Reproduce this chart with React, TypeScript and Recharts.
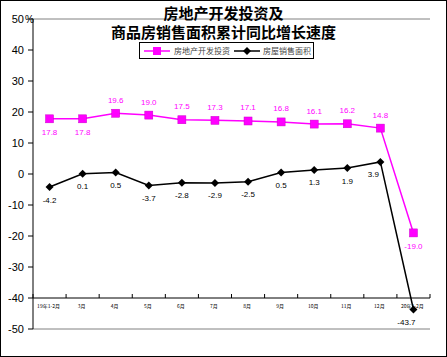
import { LineChart, Line, XAxis, YAxis, ReferenceLine, LabelList, Legend } from "recharts";

const months = ["19年1-2月", "3月", "4月", "5月", "6月", "7月", "8月", "9月", "10月", "11月", "12月", "20年1-2月"];
const investment = [17.8, 17.8, 19.6, 19.0, 17.5, 17.3, 17.1, 16.8, 16.1, 16.2, 14.8, -19.0];
const salesArea = [-4.2, 0.1, 0.5, -3.7, -2.8, -2.9, -2.5, 0.5, 1.3, 1.9, 3.9, -43.7];
const yTicks = [50, 40, 30, 20, 10, 0, -10, -20, -30, -40, -50];
const seriesNames = ["房地产开发投资", "房屋销售面积"];
const titleLines = ["房地产开发投资及", "商品房销售面积累计同比增长速度"];

const data = months.map((m, i) => ({ name: m, invest: investment[i], sales: salesArea[i] }));

const W = 445;
const H = 355;
const TOP = 18;
const BOTTOM = 328;
const LEFT = 32;
const RIGHT = 429;
const BAND = (RIGHT - LEFT) / months.length;
const AXIS_Y = TOP + ((50 - -40) / 100) * (BOTTOM - TOP);
const PINK = "#FF00FF";
const FONT = "'Liberation Sans', Arial, sans-serif";
const CJK = "'Noto Sans CJK SC', sans-serif";

const XTick = (props: any) => {
  const { x, payload, index } = props;
  return (
    <g>
      <line x1={x - BAND / 2} x2={x - BAND / 2} y1={AXIS_Y} y2={AXIS_Y - 4} stroke="#000" />
      {index === months.length - 1 && (
        <line x1={x + BAND / 2} x2={x + BAND / 2} y1={AXIS_Y} y2={AXIS_Y - 4} stroke="#000" />
      )}
      <text x={x - 1} y={AXIS_Y + 10} textAnchor="middle" fontSize={5} fontFamily={CJK} fill="#000">
        {payload.value}
      </text>
    </g>
  );
};

const YTick = (props: any) => {
  const { x, y, payload } = props;
  const v = payload.value;
  return (
    <g>
      <text x={x - 2} y={y} dy={4} textAnchor="end" fontSize={11} fontFamily={FONT} fill="#000">
        {v}
      </text>
      {v === 50 && (
        <text x={x - 1} y={y} dy={4} textAnchor="start" fontSize={10} fontFamily={FONT} fill="#000">
          %
        </text>
      )}
    </g>
  );
};

const Square = (props: any) => {
  const { cx, cy } = props;
  if (cx == null || cy == null) return null;
  return <rect x={cx - 4} y={cy - 4} width={8} height={8} fill={PINK} stroke="#cc00cc" strokeWidth={0.5} />;
};

const Diamond = (props: any) => {
  const { cx, cy } = props;
  if (cx == null || cy == null) return null;
  return <polygon points={`${cx},${cy - 4} ${cx + 4},${cy} ${cx},${cy + 4} ${cx - 4},${cy}`} fill="#000" />;
};

const PinkLabel = (props: any) => {
  const { x, y, value, index } = props;
  const below = index < 2 || value < 0;
  return (
    <text x={x} y={below ? y + 14 : y - 13} dominantBaseline="central" textAnchor="middle" fontSize={8} fontFamily={FONT} fill={PINK}>
      {Number(value).toFixed(1)}
    </text>
  );
};

const BlackLabel = (props: any) => {
  const { x, y, value, index } = props;
  // the last two labels sit a little left of their points
  const dx = index >= months.length - 2 ? -7 : 0;
  return (
    <text x={x + dx} y={y + 13} dominantBaseline="central" textAnchor="middle" fontSize={8} fontFamily={FONT} fill="#000">
      {Number(value).toFixed(1)}
    </text>
  );
};

const LegendBox = () => (
  <div
    style={{
      border: "1px solid #000",
      background: "#fff",
      height: 15,
      display: "flex",
      alignItems: "center",
      fontSize: 8,
      fontFamily: CJK,
      color: "#444",
      lineHeight: "15px",
      whiteSpace: "nowrap",
    }}
  >
    <svg width={30} height={10} style={{ marginLeft: 2 }}>
      <line x1={2} x2={28} y1={5} y2={5} stroke={PINK} strokeWidth={1.5} />
      <rect x={11} y={1} width={8} height={8} fill={PINK} />
    </svg>
    <span style={{ marginLeft: 2 }}>{seriesNames[0]}</span>
    <svg width={28} height={10} style={{ marginLeft: 3 }}>
      <line x1={1} x2={27} y1={5} y2={5} stroke="#000" strokeWidth={1.5} />
      <polygon points="14,1 18,5 14,9 10,5" fill="#000" />
    </svg>
    <span style={{ marginLeft: 2 }}>{seriesNames[1]}</span>
  </div>
);

export default function App() {
  return (
    <div
      style={{
        position: "absolute",
        left: 0,
        top: 0,
        width: 447,
        height: 357,
        boxSizing: "border-box",
        border: "1px solid #000",
        background: "#fff",
      }}
    >
      <LineChart
        width={W}
        height={H}
        data={data}
        margin={{ top: TOP, right: W - RIGHT, bottom: H - BOTTOM - 1, left: 0 }}
      >
        <ReferenceLine y={50} stroke="#808080" />
        <ReferenceLine y={-50} stroke="#808080" />
        <XAxis
          dataKey="name"
          height={1}
          interval={0}
          padding={{ left: BAND / 2, right: BAND / 2 }}
          axisLine={false}
          tickLine={false}
          tickSize={0}
          tickMargin={0}
          tick={<XTick />}
        />
        <YAxis
          width={LEFT}
          domain={[-50, 50]}
          ticks={yTicks}
          interval={0}
          axisLine={{ stroke: "#000" }}
          tickLine={{ stroke: "#000" }}
          tickSize={5}
          tick={<YTick />}
        />
        <YAxis
          yAxisId="frame"
          orientation="right"
          width={0}
          domain={[-50, 50]}
          axisLine={{ stroke: "#808080" }}
          tickLine={false}
          tick={false}
        />
        <ReferenceLine y={-40} stroke="#000" />
        <Legend
          verticalAlign="middle"
          align="center"
          layout="horizontal"
          wrapperStyle={{ left: 138, top: 41, width: 175, height: 17 }}
          content={() => <LegendBox />}
        />
        <Line
          type="linear"
          dataKey="invest"
          stroke={PINK}
          strokeWidth={1.5}
          dot={<Square />}
          activeDot={false}
          isAnimationActive={false}
        >
          <LabelList dataKey="invest" content={<PinkLabel />} />
        </Line>
        <Line
          type="linear"
          dataKey="sales"
          stroke="#000"
          strokeWidth={1.5}
          dot={<Diamond />}
          activeDot={false}
          isAnimationActive={false}
        >
          <LabelList dataKey="sales" content={<BlackLabel />} />
        </Line>
      </LineChart>
      <div
        style={{
          position: "absolute",
          left: 0,
          top: 2,
          width: 445,
          textAlign: "center",
          fontFamily: CJK,
          fontWeight: 700,
          fontSize: 15,
          lineHeight: "19px",
          color: "#000",
          pointerEvents: "none",
        }}
      >
        <div>{titleLines[0]}</div>
        <div>{titleLines[1]}</div>
      </div>
    </div>
  );
}
